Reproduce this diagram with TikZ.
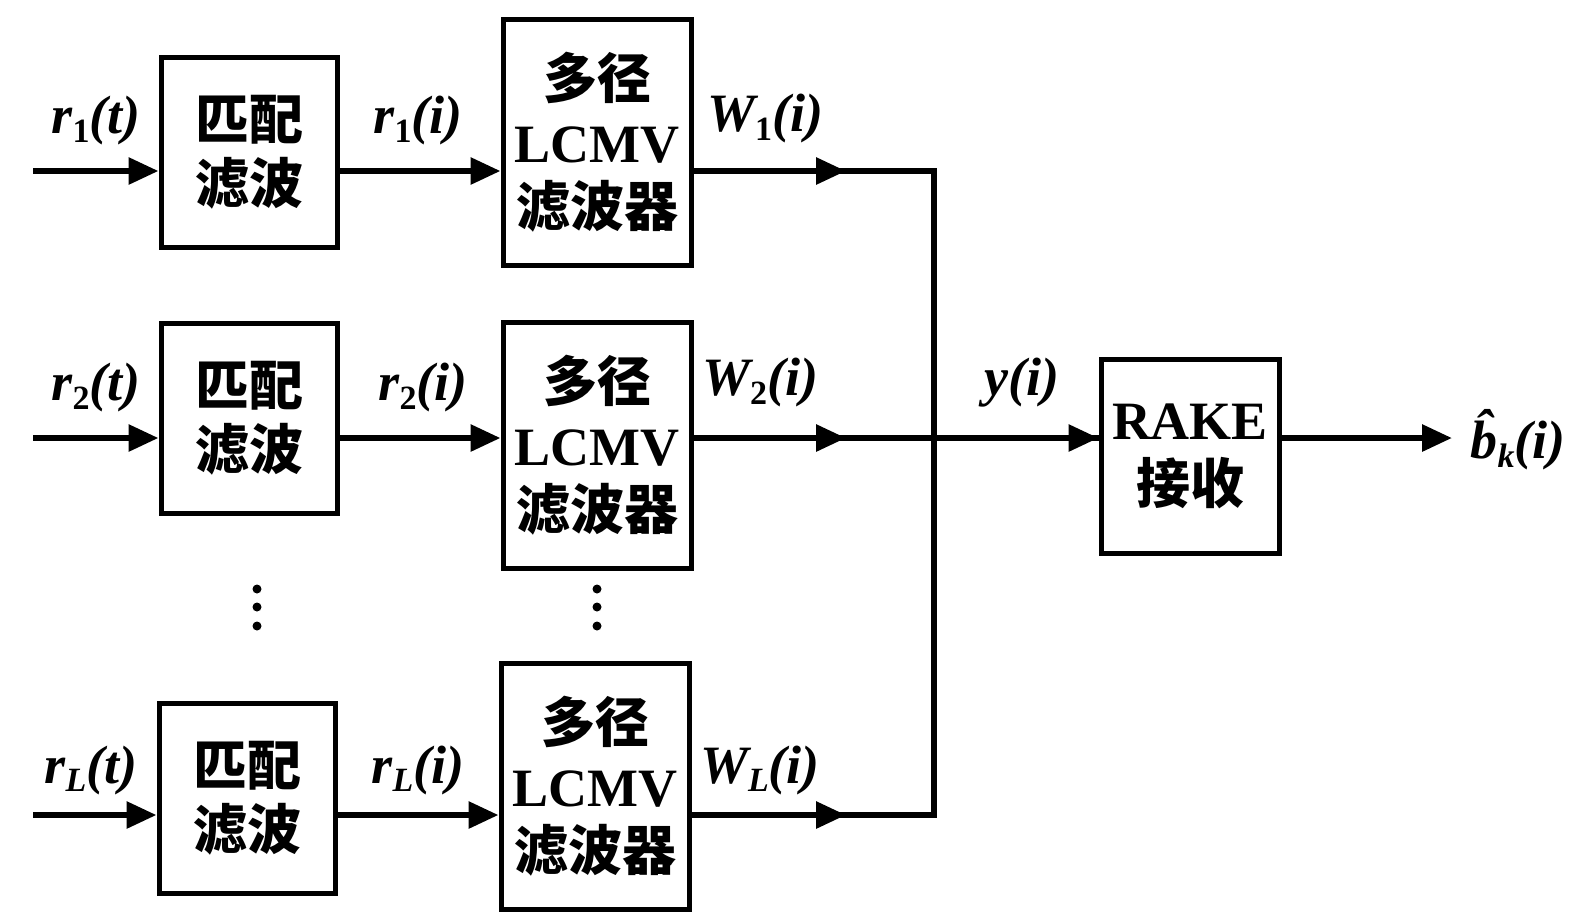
\documentclass[tikz,border=0pt]{standalone}
\usepackage{fontspec}
\setmainfont{Liberation Serif}
\newfontfamily\cjk{Noto Sans CJK SC}
\usetikzlibrary{arrows.meta}
\newcommand{\lbl}[3]{\bfseries\itshape #1\raisebox{-0.35ex}{\fontsize{17}{17}\selectfont #2}(#3)}
\tikzset{
  blk/.style={draw, line width=2.5pt, inner sep=0pt, align=center, font=\fontsize{27}{32}\selectfont\bfseries},
  mf/.style={blk, minimum width=88pt, minimum height=95pt},
  lf/.style={blk, minimum width=94pt, minimum height=123pt},
  wire/.style={line width=3pt},
  arr/.style={wire, -{Triangle[length=15pt,width=13pt]}},
  lab/.style={font=\fontsize{27}{32}\selectfont, inner sep=0pt},
  dot/.style={circle, fill, inner sep=0pt, minimum size=4.5pt}
}
\begin{document}
\begin{tikzpicture}[x=0.5pt,y=-0.5pt]
\useasboundingbox (0,0) rectangle (1579,912);
% match filters
\node[mf] (m1) at (249,152) {{\cjk\bfseries 匹配}\\{\cjk\bfseries 滤波}};
\node[mf] (m2) at (249,418) {{\cjk\bfseries 匹配}\\{\cjk\bfseries 滤波}};
\node[mf] (m3) at (247,798) {{\cjk\bfseries 匹配}\\{\cjk\bfseries 滤波}};
% LCMV filters
\node[lf] (f1) at (597,142) {{\cjk\bfseries 多径}\\LCMV\\{\cjk\bfseries 滤波器}};
\node[lf] (f2) at (597,445) {{\cjk\bfseries 多径}\\LCMV\\{\cjk\bfseries 滤波器}};
\node[lf] (f3) at (595,786) {{\cjk\bfseries 多径}\\LCMV\\{\cjk\bfseries 滤波器}};
% RAKE
\node[blk, minimum width=89pt, minimum height=97pt] (rk) at (1190,456) {RAKE\\{\cjk\bfseries 接收}};
% coordinates
\coordinate (in1) at (33,171);
\coordinate (in2) at (33,438);
\coordinate (in3) at (33,815);
\coordinate (a1) at (846,171);
\coordinate (a2) at (846,438);
\coordinate (a3) at (846,815);
\coordinate (j1) at (934,171);
\coordinate (j3) at (934,815);
\coordinate (out) at (1452,438);
% inputs
\draw[arr] (in1) -- (in1 -| m1.west);
\draw[arr] (in2) -- (in2 -| m2.west);
\draw[arr] (in3) -- (in3 -| m3.west);
% match -> LCMV
\draw[arr] (in1 -| m1.east) -- (in1 -| f1.west);
\draw[arr] (in2 -| m2.east) -- (in2 -| f2.west);
\draw[arr] (in3 -| m3.east) -- (in3 -| f3.west);
% LCMV outputs to the bus
\draw[wire] (a1 -| f1.east) -- (j1) -- (j3) -- (a3 -| f3.east);
\draw[wire] (a2 -| f2.east) -- (a2 -| rk.west);
\draw[arr] (a1 -| f1.east) -- (a1);
\draw[arr] (a2 -| f2.east) -- (a2);
\draw[arr] (a3 -| f3.east) -- (a3);
\draw[arr] (a2) -- (a2 -| rk.west);
\draw[arr] (a2 -| rk.east) -- (out);
% labels
\node[lab] (l1) at (96,121) {\lbl{r}{\upshape 1}{t}};
\node[lab] (l2) at (418,121) {\lbl{r}{\upshape 1}{i}};
\node[lab] (l3) at (765,119) {\lbl{W}{\upshape 1}{i}};
\node[lab] (l4) at (96,388) {\lbl{r}{\upshape 2}{t}};
\node[lab] (l5) at (423,388) {\lbl{r}{\upshape 2}{i}};
\node[lab] (l6) at (760,383) {\lbl{W}{\upshape 2}{i}};
\node[lab] (l7) at (1022,383) {\bfseries\itshape y(i)};
\node[lab] (l8) at (91,770) {\lbl{r}{L}{t}};
\node[lab] (l9) at (418,770) {\lbl{r}{L}{i}};
\node[lab] (l10) at (760,770) {\lbl{W}{L}{i}};
\node[lab] (l11) at (1518,440) {\lbl{\^{b}}{k}{i}};
% dots
\foreach \yy [count=\k] in {589,607,626} {
  \node[dot] (dm\k) at (257,\yy) {};
  \node[dot] (df\k) at (597,\yy) {};
}
\end{tikzpicture}
\end{document}
